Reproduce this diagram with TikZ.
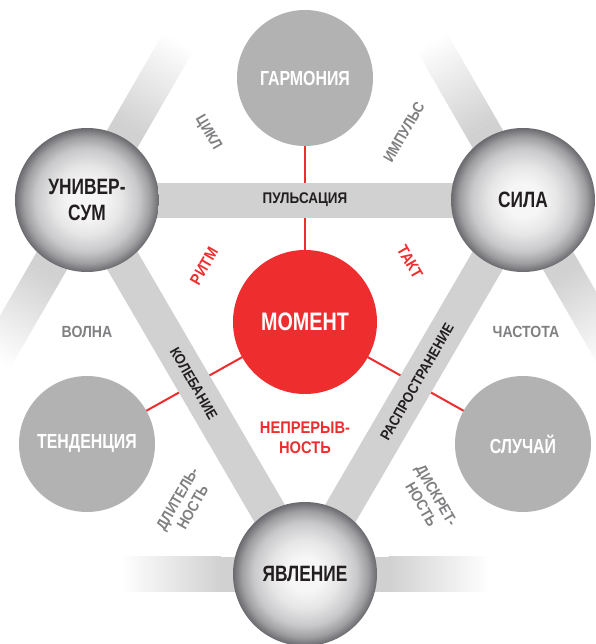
\documentclass[tikz,border=0pt]{standalone}
\usepackage{fontspec}
\setmainfont{Liberation Sans}[FakeStretch=0.87]
\newfontfamily\narrowfont{Liberation Sans}[FakeStretch=0.78]
\usetikzlibrary{backgrounds}
\definecolor{momentred}{RGB}{237,45,46}
\definecolor{circlegray}{RGB}{178,178,178}
\definecolor{bandgray}{RGB}{209,209,209}
\definecolor{labelgray}{RGB}{128,128,130}
\definecolor{textblack}{RGB}{35,31,32}
\definecolor{ballcore}{RGB}{246,246,246}
\definecolor{balllight}{RGB}{230,230,231}
\definecolor{ballmid}{RGB}{200,200,202}
\definecolor{balldark}{RGB}{158,158,161}
\definecolor{ballrim}{RGB}{106,106,110}
\pgfdeclareradialshading{ballshade}{\pgfpointorigin}{color(0bp)=(ballcore); color(6bp)=(ballcore); color(12bp)=(balllight); color(18bp)=(ballmid); color(22bp)=(balldark); color(25bp)=(ballrim); color(50bp)=(ballrim)}

\begin{document}
\begin{tikzpicture}[
    bigball/.style={circle, minimum size=3.6cm, shading=ballshade, align=center, text=textblack, font=\narrowfont\bfseries\fontsize{15.8}{19}\selectfont},
    flatball/.style={circle, minimum size=3.4cm, fill=circlegray, text=white, font=\narrowfont\bfseries\fontsize{14.5}{17}\selectfont},
    redline/.style={draw=momentred, line width=0.05cm},
    band/.style={draw=bandgray, line width=0.875cm},
    bandtext/.style={text=textblack, font=\bfseries\fontsize{10.5}{12}\selectfont},
    graytext/.style={text=labelgray, align=center, font=\bfseries\fontsize{11}{12.5}\selectfont},
    redtext/.style={text=momentred, align=center, font=\bfseries\fontsize{11.5}{13}\selectfont}]

    \useasboundingbox (-7.625,-8.05) rectangle (7.275,8.05);

    % Spheres
    \node[bigball] (univ) at (-5.45, 3.05) {УНИВЕР-\\СУМ};
    \node[bigball] (sila) at (5.45, 3.05) {СИЛА};
    \node[bigball] (yavl) at (0, -6.3) {ЯВЛЕНИЕ};

    % Gray circles
    \node[flatball] (garm) at (0, 6.1) {ГАРМОНИЯ};
    \node[flatball] (tend) at (-5.45, -3.05) {ТЕНДЕНЦИЯ};
    \node[flatball] (sluch) at (5.45, -3.05) {СЛУЧАЙ};

    % Moment
    \node[circle, minimum size=3.6cm, fill=momentred, text=white, font=\narrowfont\bfseries\fontsize{18}{21}\selectfont] (moment) at (0, 0) {МОМЕНТ};

    % Band labels
    \node[bandtext, font=\bfseries\fontsize{11}{13}\selectfont] (puls) at (0, 3.05) {ПУЛЬСАЦИЯ};
    \node[bandtext, rotate=-60] (koleb) at (-2.78, -1.53) {КОЛЕБАНИЕ};
    \node[bandtext, rotate=60] (raspr) at (2.8, -1.5) {РАСПРОСТРАНЕНИЕ};

    % Outer labels
    \node[graytext, rotate=-60] (cikl) at (-2.425, 4.725) {ЦИКЛ};
    \node[graytext, rotate=60] (impuls) at (2.475, 4.75) {ИМПУЛЬС};
    \node[graytext, font=\bfseries\fontsize{11.5}{13}\selectfont] (volna) at (-5.45, -0.25) {ВОЛНА};
    \node[graytext, font=\bfseries\fontsize{11.5}{13}\selectfont] (chast) at (5.525, -0.25) {ЧАСТОТА};
    \node[graytext, rotate=60] (dlit) at (-3.0, -4.525) {ДЛИТЕЛЬ-\\НОСТЬ};
    \node[graytext, rotate=-60] (diskr) at (3.1, -4.45) {ДИСКРЕТ-\\НОСТЬ};

    % Red labels
    \node[redtext, rotate=60] (ritm) at (-2.525, 1.4) {РИТМ};
    \node[redtext, rotate=-60] (takt) at (2.625, 1.5) {ТАКТ};
    \node[redtext, font=\bfseries\fontsize{12}{14.5}\selectfont] (nepr) at (0, -2.9) {НЕПРЕРЫВ-\\НОСТЬ};

    \begin{scope}[on background layer]
        % Red links
        \draw[redline] (moment.center) -- (garm.center);
        \draw[redline] (moment.center) -- (tend.center);
        \draw[redline] (moment.center) -- (sluch.center);

        % Bands
        \draw[band] (univ.center) -- (sila.center);
        \draw[band] (univ.center) -- (yavl.center);
        \draw[band] (sila.center) -- (yavl.center);

        % Fading bands
        \foreach \ball/\ang in {univ/60, sila/120, yavl/0} {
            \begin{scope}[transform canvas={shift={(\ball.center)}, rotate=\ang}]
                \fill[bandgray] (-2.1, -0.4375) rectangle (2.1, 0.4375);
                \shade[left color=bandgray, right color=white] (2.1, -0.4375) rectangle (4.6, 0.4375);
                \shade[left color=white, right color=bandgray] (-4.6, -0.4375) rectangle (-2.1, 0.4375);
            \end{scope}
        }
    \end{scope}
\end{tikzpicture}
\end{document}
